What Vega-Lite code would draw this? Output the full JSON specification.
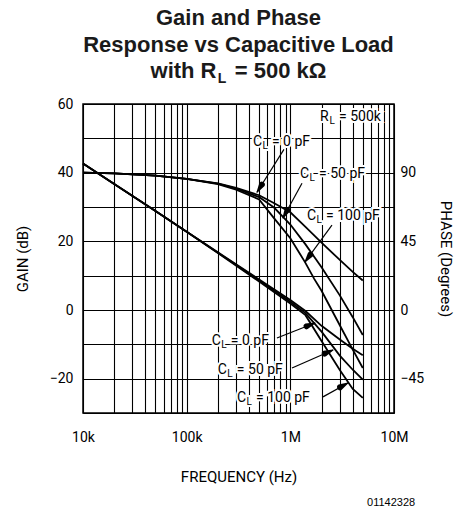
{
  "$schema": "https://vega.github.io/schema/vega-lite/v6.json",
  "width": 311,
  "height": 309,
  "autosize": {"type": "none"},
  "padding": {"left": 83, "top": 104, "right": 74, "bottom": 99},
  "title": {
    "text": ["Gain and Phase", "Response vs Capacitive Load", "with R\u00a0\u00a0\u00a0= 500 kΩ"],
    "font": "Liberation Sans", "fontSize": 22, "fontWeight": "bold", "lineHeight": 26.5,
    "offset": -11, "anchor": "middle", "frame": "group", "color": "#1a1a1a"
  },
  "config": {
    "view": {"stroke": "black", "strokeWidth": 1.5},
    "axis": {
      "labelFont": "Roboto", "labelFontSize": 14, "labelColor": "black",
      "titleFont": "Roboto", "titleFontSize": 15, "titleFontWeight": "normal", "titleColor": "black",
      "gridColor": "black", "gridOpacity": 1, "gridWidth": 1.1,
      "domain": false, "ticks": false, "labelFlush": false
    }
  },
  "datasets": {
    "gain": [
      {"cl": "0", "f": 10000, "db": 42.7}, {"cl": "0", "f": 20000, "db": 36.7}, {"cl": "0", "f": 50000, "db": 28.8},
      {"cl": "0", "f": 100000, "db": 22.8}, {"cl": "0", "f": 200000, "db": 16.8}, {"cl": "0", "f": 500000, "db": 8.9},
      {"cl": "0", "f": 1000000, "db": 2.9}, {"cl": "0", "f": 1400000, "db": -0.3}, {"cl": "0", "f": 2000000, "db": -4.6},
      {"cl": "0", "f": 3000000, "db": -8.6}, {"cl": "0", "f": 4000000, "db": -11.3}, {"cl": "0", "f": 5000000, "db": -13.2},
      {"cl": "50", "f": 10000, "db": 42.7}, {"cl": "50", "f": 20000, "db": 36.7}, {"cl": "50", "f": 50000, "db": 28.8},
      {"cl": "50", "f": 100000, "db": 22.8}, {"cl": "50", "f": 200000, "db": 16.7}, {"cl": "50", "f": 500000, "db": 8.6},
      {"cl": "50", "f": 1000000, "db": 2.4}, {"cl": "50", "f": 1400000, "db": -0.9}, {"cl": "50", "f": 2000000, "db": -6.3},
      {"cl": "50", "f": 2600000, "db": -10.8}, {"cl": "50", "f": 3000000, "db": -13.3}, {"cl": "50", "f": 4000000, "db": -17.4}, {"cl": "50", "f": 5000000, "db": -20.3},
      {"cl": "100", "f": 10000, "db": 42.7}, {"cl": "100", "f": 20000, "db": 36.7}, {"cl": "100", "f": 50000, "db": 28.8},
      {"cl": "100", "f": 100000, "db": 22.8}, {"cl": "100", "f": 200000, "db": 16.6}, {"cl": "100", "f": 500000, "db": 8.3},
      {"cl": "100", "f": 1000000, "db": 1.9}, {"cl": "100", "f": 1400000, "db": -1.5}, {"cl": "100", "f": 2000000, "db": -9.0},
      {"cl": "100", "f": 3000000, "db": -17.5}, {"cl": "100", "f": 3600000, "db": -21.0}, {"cl": "100", "f": 4000000, "db": -23.0}, {"cl": "100", "f": 5000000, "db": -25.6}
    ],
    "phase": [
      {"cl": "0", "f": 10000, "deg": 90}, {"cl": "0", "f": 20000, "deg": 89.5}, {"cl": "0", "f": 50000, "deg": 88},
      {"cl": "0", "f": 100000, "deg": 86}, {"cl": "0", "f": 200000, "deg": 83}, {"cl": "0", "f": 300000, "deg": 80},
      {"cl": "0", "f": 500000, "deg": 75.2}, {"cl": "0", "f": 700000, "deg": 70}, {"cl": "0", "f": 1000000, "deg": 64},
      {"cl": "0", "f": 1400000, "deg": 54.5}, {"cl": "0", "f": 2000000, "deg": 44.2}, {"cl": "0", "f": 3000000, "deg": 32.8},
      {"cl": "0", "f": 4000000, "deg": 25}, {"cl": "0", "f": 5000000, "deg": 19.3},
      {"cl": "50", "f": 10000, "deg": 90}, {"cl": "50", "f": 20000, "deg": 89.5}, {"cl": "50", "f": 50000, "deg": 88},
      {"cl": "50", "f": 100000, "deg": 86}, {"cl": "50", "f": 200000, "deg": 82.8}, {"cl": "50", "f": 300000, "deg": 79.5},
      {"cl": "50", "f": 500000, "deg": 74}, {"cl": "50", "f": 700000, "deg": 67}, {"cl": "50", "f": 850000, "deg": 61},
      {"cl": "50", "f": 1000000, "deg": 56}, {"cl": "50", "f": 1400000, "deg": 43}, {"cl": "50", "f": 2000000, "deg": 28},
      {"cl": "50", "f": 3000000, "deg": 9.6}, {"cl": "50", "f": 4000000, "deg": -4.7}, {"cl": "50", "f": 5000000, "deg": -16.4},
      {"cl": "100", "f": 10000, "deg": 90}, {"cl": "100", "f": 20000, "deg": 89.5}, {"cl": "100", "f": 50000, "deg": 88},
      {"cl": "100", "f": 100000, "deg": 86}, {"cl": "100", "f": 200000, "deg": 82.5}, {"cl": "100", "f": 300000, "deg": 78.8},
      {"cl": "100", "f": 500000, "deg": 72.5}, {"cl": "100", "f": 680000, "deg": 61}, {"cl": "100", "f": 1000000, "deg": 47},
      {"cl": "100", "f": 1385000, "deg": 31.4}, {"cl": "100", "f": 1700000, "deg": 20.4}, {"cl": "100", "f": 2000000, "deg": 12.6},
      {"cl": "100", "f": 3000000, "deg": -10}, {"cl": "100", "f": 4000000, "deg": -26}, {"cl": "100", "f": 5000000, "deg": -38}
    ],
    "arrows": [
      {"id": "p0", "part": "start", "f": 868000, "db": 46.8}, {"id": "p0", "part": "base", "f": 531000, "db": 36.5}, {"id": "p0", "part": "tip", "f": 477000, "db": 34.3},
      {"id": "p50", "part": "start", "f": 1296000, "db": 36.9}, {"id": "p50", "part": "base", "f": 935000, "db": 29.1}, {"id": "p50", "part": "tip", "f": 849000, "db": 26.8},
      {"id": "p100", "part": "start", "f": 2520000, "db": 24.7}, {"id": "p100", "part": "base", "f": 1559000, "db": 16.1}, {"id": "p100", "part": "tip", "f": 1385000, "db": 14.0},
      {"id": "g0", "part": "start", "f": 743000, "db": -8.15}, {"id": "g0", "part": "base", "f": 1435000, "db": -4.74}, {"id": "g0", "part": "tip", "f": 1729000, "db": -3.78},
      {"id": "g50", "part": "start", "f": 1038000, "db": -16.9}, {"id": "g50", "part": "base", "f": 2150000, "db": -12.7}, {"id": "g50", "part": "tip", "f": 2580000, "db": -11.64},
      {"id": "g100", "part": "start", "f": 2065000, "db": -25.3}, {"id": "g100", "part": "base", "f": 3020000, "db": -22.5}, {"id": "g100", "part": "tip", "f": 3600000, "db": -21.24}
    ],
    "labels": [
      {"sym": "R", "rest": "=  500k", "f": 1932000, "db": 56.15},
      {"sym": "C", "rest": "=  0  pF", "f": 436000, "db": 48.9},
      {"sym": "C", "rest": "=  50  pF", "f": 1240000, "db": 39.6},
      {"sym": "C", "rest": "=  100  pF", "f": 1448000, "db": 27.35},
      {"sym": "C", "rest": "=  0  pF", "f": 175000, "db": -9.0},
      {"sym": "C", "rest": "=  50  pF", "f": 200000, "db": -17.46},
      {"sym": "C", "rest": "=  100  pF", "f": 306000, "db": -25.6}
    ],
    "extras": [
      {"kind": "titlesub", "txt": "L", "f": 219000, "db": 67.2},
      {"kind": "footer", "txt": "01142328", "f": 16000000, "db": -56.2}
    ]
  },
  "encoding": {
    "x": {"field": "f", "type": "quantitative",
          "scale": {"type": "log", "domain": [10000, 10000000]},
          "axis": {"title": "FREQUENCY (Hz)", "grid": true, "labelPadding": 17, "titlePadding": 25,
                   "values": [10000, 20000, 30000, 40000, 50000, 60000, 70000, 80000, 90000,
                              100000, 200000, 300000, 400000, 500000, 600000, 700000, 800000, 900000,
                              1000000, 2000000, 3000000, 4000000, 5000000, 6000000, 7000000, 8000000, 9000000, 10000000],
                   "labelExpr": "datum.value == 10000 ? '10k' : datum.value == 100000 ? '100k' : datum.value == 1000000 ? '1M' : datum.value == 10000000 ? '10M' : ''"}}
  },
  "layer": [
    {
      "encoding": {
        "y": {"field": "db", "type": "quantitative",
              "scale": {"domain": [-30, 60]},
              "axis": {"title": "GAIN (dB)", "grid": true, "labelPadding": 10, "titlePadding": 19,
                       "values": [-30, -20, -10, 0, 10, 20, 30, 40, 50, 60],
                       "labelExpr": "datum.value % 20 == 0 ? datum.label : ''"}}
      },
      "layer": [
        {
          "data": {"name": "gain"},
          "mark": {"type": "line", "color": "black", "strokeWidth": 1.8},
          "encoding": {"detail": {"field": "cl"}}
        },
        {
          "data": {"name": "arrows"},
          "transform": [{"filter": "datum.part != 'base'"}],
          "mark": {"type": "line", "color": "black", "strokeWidth": 1.2},
          "encoding": {"detail": {"field": "id"}}
        },
        {
          "data": {"name": "arrows"},
          "transform": [{"filter": "datum.part != 'start'"}],
          "mark": {"type": "trail", "color": "black"},
          "encoding": {
            "size": {"field": "part", "type": "ordinal", "scale": {"domain": ["base", "tip"], "range": [6, 0]}, "legend": null},
            "detail": {"field": "id"}
          }
        },
        {
          "data": {"name": "labels"},
          "layer": [
            {"mark": {"type": "text", "align": "left", "baseline": "middle", "font": "Roboto", "fontSize": 14, "stroke": "white", "strokeWidth": 4, "fill": "white"},
             "encoding": {"text": {"field": "sym"}}},
            {"mark": {"type": "text", "align": "left", "baseline": "middle", "font": "Roboto", "fontSize": 10, "dx": 9.5, "dy": 4, "stroke": "white", "strokeWidth": 4, "fill": "white"},
             "encoding": {"text": {"value": "L"}}},
            {"mark": {"type": "text", "align": "left", "baseline": "middle", "font": "Roboto", "fontSize": 14, "dx": 19, "stroke": "white", "strokeWidth": 4, "fill": "white"},
             "encoding": {"text": {"field": "rest"}}},
            {"mark": {"type": "text", "align": "left", "baseline": "middle", "font": "Roboto", "fontSize": 14, "color": "black"},
             "encoding": {"text": {"field": "sym"}}},
            {"mark": {"type": "text", "align": "left", "baseline": "middle", "font": "Roboto", "fontSize": 10, "dx": 9.5, "dy": 4, "color": "black"},
             "encoding": {"text": {"value": "L"}}},
            {"mark": {"type": "text", "align": "left", "baseline": "middle", "font": "Roboto", "fontSize": 14, "dx": 19, "color": "black"},
             "encoding": {"text": {"field": "rest"}}}
          ]
        },
        {
          "data": {"name": "extras"},
          "transform": [{"filter": "datum.kind == 'titlesub'"}],
          "mark": {"type": "text", "font": "Liberation Sans", "fontWeight": "bold", "fontSize": 14, "align": "center", "baseline": "middle", "color": "#1a1a1a", "clip": false},
          "encoding": {"text": {"field": "txt"}}
        },
        {
          "data": {"name": "extras"},
          "transform": [{"filter": "datum.kind == 'footer'"}],
          "mark": {"type": "text", "font": "Liberation Sans", "fontSize": 11, "align": "right", "baseline": "middle", "color": "black", "clip": false},
          "encoding": {"text": {"field": "txt"}}
        }
      ]
    },
    {
      "data": {"name": "phase"},
      "mark": {"type": "line", "color": "black", "strokeWidth": 1.8},
      "encoding": {
        "y": {"field": "deg", "type": "quantitative",
              "scale": {"domain": [-67.5, 135]},
              "axis": {"orient": "right", "title": "PHASE (Degrees)", "grid": false, "labelPadding": 6, "titlePadding": 14,
                       "values": [-45, 0, 45, 90]}},
        "detail": {"field": "cl"}
      }
    }
  ],
  "resolve": {"scale": {"y": "independent"}}
}
